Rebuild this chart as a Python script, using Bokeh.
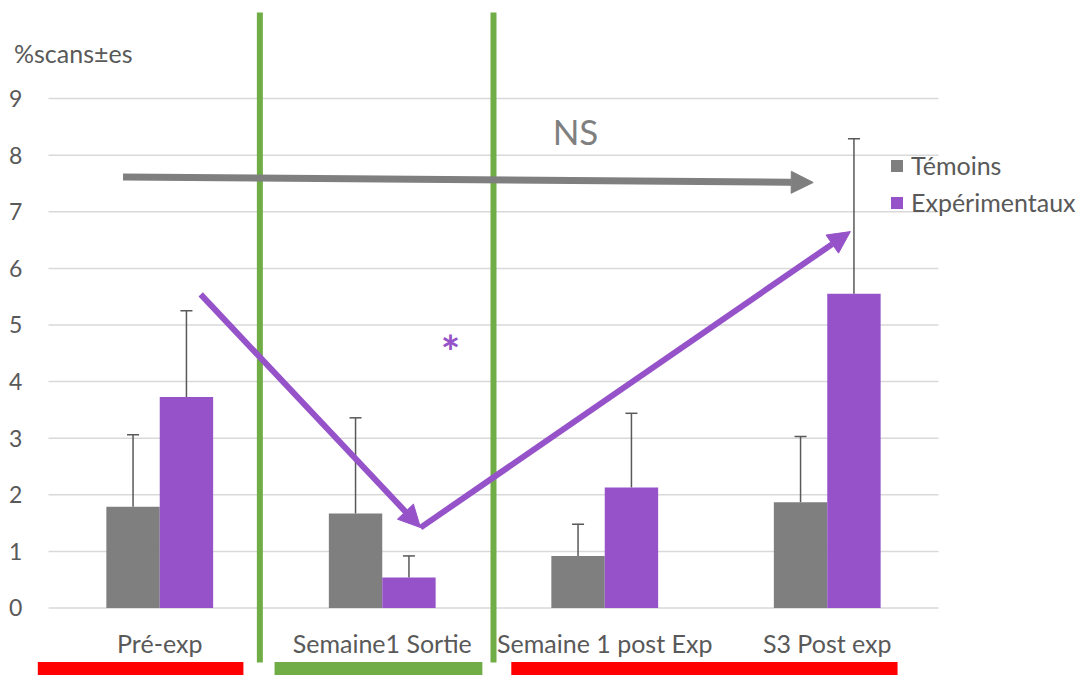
from bokeh.plotting import figure
from bokeh.models import Range1d, Arrow, NormalHead, Legend, LegendItem
from bokeh.core.properties import value
from bokeh.embed import file_html
from bokeh.resources import INLINE

# ---- data -------------------------------------------------------------
categories = ["Pré-exp", "Semaine1 Sortie", "Semaine 1 post Exp", "S3 Post exp"]
temoins = [1.79, 1.67, 0.92, 1.87]
temoins_es = [1.27, 1.69, 0.56, 1.16]
experimentaux = [3.73, 0.54, 2.13, 5.55]
experimentaux_es = [1.52, 0.38, 1.31, 2.74]
y_ticks = [0, 1, 2, 3, 4, 5, 6, 7, 8, 9]

# annotation anchors (category index, value)
ns_arrow = [(-0.165, 7.615), (2.937, 7.518)]
exp_trend = [(0.184, 5.54), (1.172, 1.42), (3.104, 6.65)]
separators = [0.45, 1.50]
phase_bands = [(-0.548, 0.376, "#ff0000"), (0.516, 1.45, "#70ad47"), (1.58, 3.316, "#ff0000")]

GRAY = "#7f7f7f"
PURPLE = "#9653c9"
GREEN = "#70ad47"
TEXT = "#595959"
FONT = value("Lato")

W, H = 1081, 675
p = figure(width=W, height=H, x_range=Range1d(-0.7157, 4.1427),
           y_range=Range1d(-1.1926, 10.733), x_axis_type=None, y_axis_type=None,
           output_backend="svg", toolbar_location=None, min_border=0)
p.grid.visible = False
p.outline_line_color = None
p.background_fill_color = "white"

n = len(categories)
idx = list(range(n))
dodge, bw = 0.12, 0.24

# horizontal gridlines
p.segment(x0=[-0.5] * len(y_ticks), x1=[n - 0.5] * len(y_ticks), y0=y_ticks, y1=y_ticks,
          line_color="#d9d9d9", line_width=1.5)

# y tick labels and axis title
p.text(x=[-0.678] * len(y_ticks), y=y_ticks, text=[str(t) for t in y_ticks],
       text_font=FONT, text_font_size="23px", text_color=TEXT,
       text_align="left", text_baseline="middle")
p.text(x=[-0.655], y=[9.81], text=["%scans±es"], text_font=FONT, text_font_size="25px",
       text_color=TEXT, text_align="left", text_baseline="middle")

# bars
xt = [i - dodge for i in idx]
xe = [i + dodge for i in idx]
r_t = p.vbar(x=xt, top=temoins, width=bw, bottom=0, fill_color=GRAY, line_color=None)
r_e = p.vbar(x=xe, top=experimentaux, width=bw, bottom=0, fill_color=PURPLE, line_color=None)

# error bars (upper only)
cap = 0.027
for xs, vals, es in ((xt, temoins, temoins_es), (xe, experimentaux, experimentaux_es)):
    tops = [v + e for v, e in zip(vals, es)]
    p.segment(x0=xs, x1=xs, y0=vals, y1=tops, line_color=TEXT, line_width=1.5)
    p.segment(x0=[x - cap for x in xs], x1=[x + cap for x in xs], y0=tops, y1=tops,
              line_color=TEXT, line_width=1.5)

# category labels
p.text(x=idx, y=[-0.61] * n, text=categories, text_font=FONT, text_font_size="25px",
       text_color=TEXT, text_align="center", text_baseline="middle")

# phase separators and bands
for sx in separators:
    p.segment(x0=[sx], x1=[sx], y0=[-0.963], y1=[10.52], line_color=GREEN, line_width=6)
for x0, x1, c in phase_bands:
    p.quad(left=[x0], right=[x1], bottom=[-1.3], top=[-0.955], fill_color=c, line_color=None)

# trend arrows
(gx0, gy0), (gx1, gy1) = ns_arrow
p.add_layout(Arrow(end=NormalHead(size=22, fill_color=GRAY, line_color=GRAY),
                   x_start=gx0, y_start=gy0, x_end=gx1, y_end=gy1,
                   line_color=GRAY, line_width=7))
for (ax0, ay0), (ax1, ay1) in zip(exp_trend[:-1], exp_trend[1:]):
    p.add_layout(Arrow(end=NormalHead(size=22, fill_color=PURPLE, line_color=PURPLE),
                       x_start=ax0, y_start=ay0, x_end=ax1, y_end=ay1,
                       line_color=PURPLE, line_width=6))

p.text(x=[1.8685], y=[8.42], text=["NS"], text_font=FONT, text_font_size="35px",
       text_color=GRAY, text_align="center", text_baseline="middle")
p.text(x=[1.307], y=[4.54], text=["*"], text_font=FONT, text_font_size="46px",
       text_font_style="bold", text_color=PURPLE, text_align="center", text_baseline="middle")

legend = Legend(items=[LegendItem(label="Témoins", renderers=[r_t]),
                       LegendItem(label="Expérimentaux", renderers=[r_e])],
                location=(889, H - 217), orientation="vertical",
                label_text_font="Lato", label_text_font_size="25px", label_text_color=TEXT,
                glyph_width=15, glyph_height=15, label_standoff=7, spacing=7,
                padding=0, margin=0, border_line_color=None, background_fill_alpha=0)
p.add_layout(legend)

open("out.html", "w").write(file_html(p, INLINE))
